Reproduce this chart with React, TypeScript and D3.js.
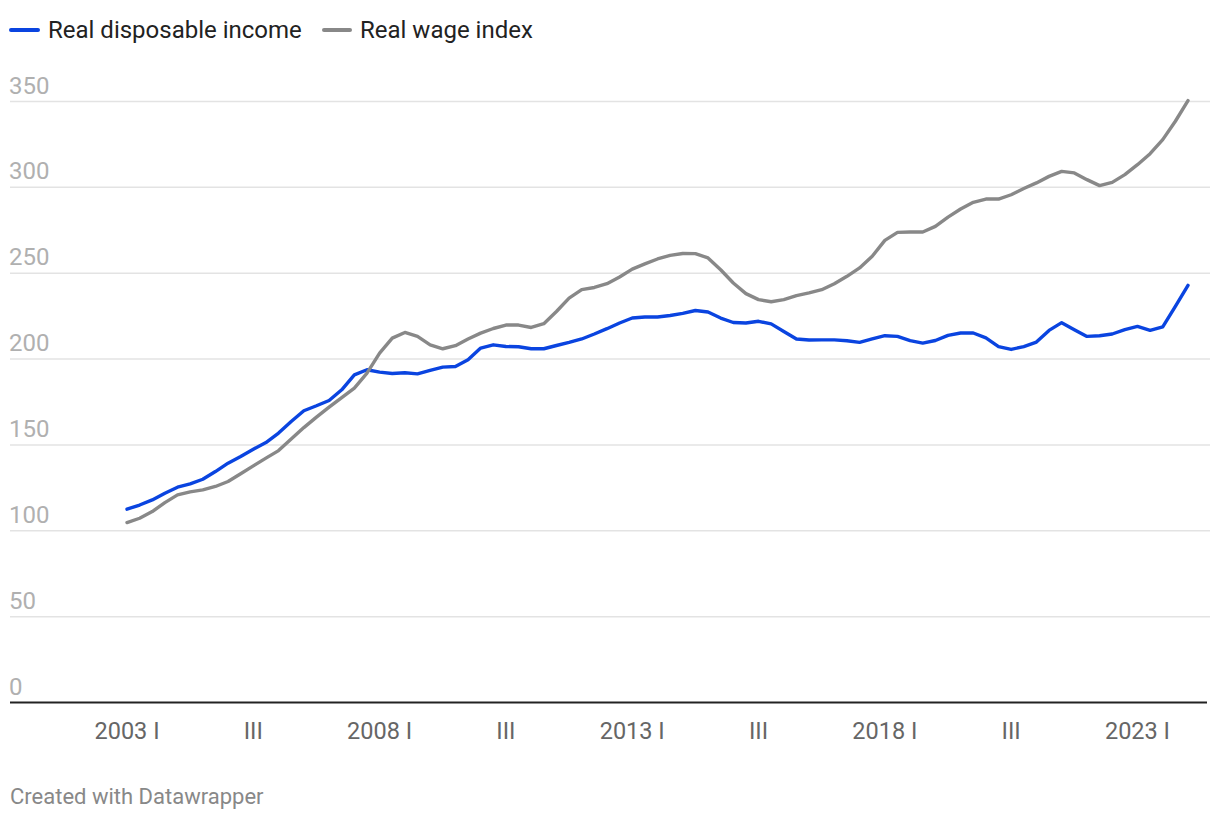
import React from "react";
import * as d3 from "d3";

const seriesNames = ["Real disposable income", "Real wage index"];
const seriesColors = ["#0a44e0", "#888888"];

const income = [
  112.6, 115, 118, 121.9, 125.4, 127.3, 130, 134.5, 139.4, 143.3, 147.5, 151.4, 156.9, 163.6, 169.9, 172.8,
  175.9, 182.1, 190.8, 193.8, 192.4, 191.6, 192, 191.4, 193.4, 195.3, 195.7, 199.6, 206.4, 208.3, 207.3,
  207.2, 206, 206, 207.9, 209.7, 211.7, 214.6, 217.7, 221, 223.9, 224.5, 224.5, 225.4, 226.6, 228.3, 227.4,
  223.9, 221.3, 221, 222, 220.5, 216.1, 211.7, 211.1, 211.2, 211.2, 210.7, 209.7, 211.7, 213.6, 213.2, 210.7,
  209.3, 210.8, 213.8, 215.2, 215.2, 212.3, 207.3, 205.6, 207.3, 209.9, 216.7, 221.2, 217.1, 213.2, 213.6,
  214.6, 217.1, 219, 216.7, 218.8, 230.7, 242.9,
];

const wage = [
  104.8, 107.3, 111.2, 116.4, 120.9, 122.7, 123.8, 125.8, 128.7, 133.2, 137.8, 142.3, 146.7, 153.4, 160.1,
  166.2, 172, 177.6, 183.1, 191.8, 203.5, 212.2, 215.5, 213.2, 208.3, 206, 207.8, 211.7, 215.1, 217.8, 219.8,
  219.8, 218.4, 220.6, 227.7, 235.5, 240.4, 241.7, 243.9, 247.8, 252.4, 255.4, 258.3, 260.4, 261.5, 261.4,
  258.9, 252, 244.3, 238.1, 234.6, 233.4, 234.6, 236.9, 238.5, 240.4, 243.9, 248.2, 253.1, 259.9, 269.1,
  273.8, 274, 274, 277.3, 282.7, 287.4, 291.3, 293.2, 293.2, 295.7, 299.3, 302.6, 306.4, 309.3, 308.4, 304.5,
  301, 302.9, 307.4, 313.2, 319.6, 327.8, 338.5, 350.5,
];

const xTickIndex = [0, 10, 20, 30, 40, 50, 60, 70, 80];
const xTickLabels = ["2003 I", "III", "2008 I", "III", "2013 I", "III", "2018 I", "III", "2023 I"];
const yTicks = [0, 50, 100, 150, 200, 250, 300, 350];

const FONT = "Roboto, 'Noto Sans', sans-serif";

export default function App() {
  const x = d3.scaleLinear().domain([0, income.length - 1]).range([127, 1188]);
  const y = d3.scaleLinear().domain([0, 350]).range([702.5, 101.5]);
  const line = d3
    .line<number>()
    .x((_, i) => x(i))
    .y((d) => y(d))
    .curve(d3.curveLinear);
  const series = [income, wage];

  return (
    <svg
      width={1220}
      height={820}
      style={{ position: "absolute", left: 0, top: 0, background: "#fff" }}
      fontFamily={FONT}
    >
      {/* legend */}
      <g>
        <line x1={11} x2={38} y1={30} y2={30} stroke={seriesColors[0]} strokeWidth={4} strokeLinecap="round" />
        <text x={48} y={38} fontSize={24} fill="#222">{seriesNames[0]}</text>
        <line x1={324} x2={350} y1={30} y2={30} stroke={seriesColors[1]} strokeWidth={4} strokeLinecap="round" />
        <text x={360} y={38} fontSize={24} fill="#222">{seriesNames[1]}</text>
      </g>

      {/* grid */}
      {yTicks.map((t) =>
        t === 0 ? null : (
          <line key={"g" + t} x1={10} x2={1210} y1={y(t)} y2={y(t)} stroke="#e3e3e3" strokeWidth={1.5} />
        )
      )}
      {yTicks.map((t) => (
        <text key={"t" + t} x={9} y={y(t) - 8} fontSize={24} fill="#b0b0b0">
          {t}
        </text>
      ))}

      {/* lines */}
      {series.map((s, k) => (
        <path
          key={k}
          d={line(s) || ""}
          fill="none"
          stroke={seriesColors[k]}
          strokeWidth={3.4}
          strokeLinejoin="round"
          strokeLinecap="round"
        />
      ))}

      {/* baseline */}
      <line x1={10} x2={1207} y1={y(0)} y2={y(0)} stroke="#222" strokeWidth={2} />

      {/* x labels */}
      {xTickIndex.map((idx, i) => (
        <text key={"x" + i} x={x(idx)} y={739} fontSize={23.5} fill="#666" textAnchor="middle">
          {xTickLabels[i]}
        </text>
      ))}

      <text x={10} y={804} fontSize={22} fill="#888">Created with Datawrapper</text>
    </svg>
  );
}
